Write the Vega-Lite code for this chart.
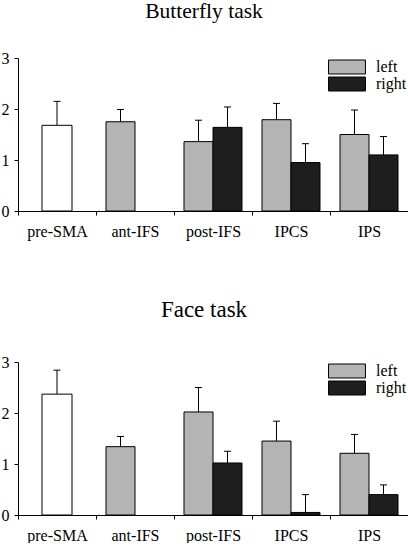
{
  "$schema": "https://vega.github.io/schema/vega-lite/v6.json",
  "padding": {"left": 1, "top": 0, "right": 0, "bottom": 0},
  "background": "white",
  "spacing": 60,
  "resolve": {"legend": {"color": "independent"}},
  "config": {
    "font": "Liberation Serif",
    "view": {"stroke": null},
    "axis": {
      "labelFont": "Liberation Serif",
      "labelFontSize": 16,
      "labelColor": "black",
      "domainColor": "black",
      "tickColor": "black",
      "grid": false,
      "title": null,
      "tickSize": 4,
      "domainWidth": 1,
      "tickWidth": 1
    },
    "legend": {"labelFont": "Liberation Serif", "labelFontSize": 16, "labelColor": "black"},
    "title": {"font": "Liberation Serif", "fontWeight": "normal", "color": "black", "anchor": "middle"}
  },
  "datasets": {
    "butterfly": [
      {"region": "pre-SMA", "side": "bilateral", "value": 1.68, "upper": 2.15},
      {"region": "ant-IFS", "side": "left", "value": 1.75, "upper": 1.99},
      {"region": "post-IFS", "side": "left", "value": 1.36, "upper": 1.78},
      {"region": "post-IFS", "side": "right", "value": 1.64, "upper": 2.04},
      {"region": "IPCS", "side": "left", "value": 1.79, "upper": 2.11},
      {"region": "IPCS", "side": "right", "value": 0.95, "upper": 1.32},
      {"region": "IPS", "side": "left", "value": 1.5, "upper": 1.98},
      {"region": "IPS", "side": "right", "value": 1.1, "upper": 1.46}
    ],
    "face": [
      {"region": "pre-SMA", "side": "bilateral", "value": 2.37, "upper": 2.84},
      {"region": "ant-IFS", "side": "left", "value": 1.34, "upper": 1.54},
      {"region": "post-IFS", "side": "left", "value": 2.02, "upper": 2.5},
      {"region": "post-IFS", "side": "right", "value": 1.02, "upper": 1.25},
      {"region": "IPCS", "side": "left", "value": 1.45, "upper": 1.84},
      {"region": "IPCS", "side": "right", "value": 0.05, "upper": 0.4},
      {"region": "IPS", "side": "left", "value": 1.21, "upper": 1.58},
      {"region": "IPS", "side": "right", "value": 0.4, "upper": 0.59}
    ]
  },
  "vconcat": [
    {
      "title": {"text": "Butterfly task", "fontSize": 21.5, "offset": 28, "dx": -9},
      "width": 390,
      "height": 153,
      "data": {"name": "butterfly"},
      "encoding": {
        "x": {"field": "region", "type": "nominal", "sort": ["pre-SMA", "ant-IFS", "post-IFS", "IPCS", "IPS"],
              "scale": {"paddingInner": 0, "paddingOuter": 0},
              "axis": {"labelAngle": 0, "tickBand": "extent", "labelPadding": 8, "labelFont": "Liberation Serif", "labelFontSize": 16, "labelColor": "black", "domainColor": "black", "tickColor": "black"}}
      },
      "layer": [
        {
          "transform": [{"filter": "datum.side === 'bilateral'"}],
          "mark": {"type": "rule", "stroke": "black", "strokeWidth": 1},
          "encoding": {"y": {"field": "value", "type": "quantitative"}, "y2": {"field": "upper"}}
        },
        {
          "transform": [{"filter": "datum.side === 'bilateral'"}],
          "mark": {"type": "tick", "size": 7, "thickness": 1, "color": "black", "opacity": 1},
          "encoding": {"y": {"field": "upper", "type": "quantitative"}}
        },
        {
          "transform": [{"filter": "datum.side === 'bilateral'"}],
          "mark": {"type": "bar", "width": {"band": 0.385}, "stroke": "black", "strokeWidth": 1},
          "encoding": {
            "y": {"field": "value", "type": "quantitative", "scale": {"domain": [0, 3]},
                  "axis": {"values": [0, 1, 2, 3], "labelPadding": 5, "labelFont": "Liberation Serif", "labelFontSize": 16, "labelColor": "black", "domainColor": "black", "tickColor": "black"}},
            "color": {"field": "side", "type": "nominal",
                      "scale": {"domain": ["bilateral", "left", "right"], "range": ["#ffffff", "#b4b4b4", "#1e1e1e"]},
                      "legend": {"title": null, "values": ["left", "right"], "orient": "top-right", "offset": 1, "padding": 0,
                                 "symbolType": "M-2.64,-1H2.64V1H-2.64Z", "symbolSize": 196,
                                 "symbolStrokeColor": "black", "symbolStrokeWidth": 1, "symbolOpacity": 1,
                                 "labelFont": "Liberation Serif", "labelFontSize": 16, "labelColor": "black",
                                 "labelOffset": 21, "rowPadding": -1}}
          }
        },
        {
          "transform": [{"filter": "datum.side !== 'bilateral'"}],
          "mark": {"type": "rule", "stroke": "black", "strokeWidth": 1},
          "encoding": {
            "xOffset": {"field": "side", "type": "nominal", "scale": {"domain": ["left", "right"], "paddingInner": 0, "paddingOuter": 0.345}},
            "y": {"field": "value", "type": "quantitative"}, "y2": {"field": "upper"}}
        },
        {
          "transform": [{"filter": "datum.side !== 'bilateral'"}],
          "mark": {"type": "tick", "size": 7, "thickness": 1, "color": "black", "opacity": 1},
          "encoding": {
            "xOffset": {"field": "side", "type": "nominal"},
            "y": {"field": "upper", "type": "quantitative"}}
        },
        {
          "transform": [{"filter": "datum.side !== 'bilateral'"}],
          "mark": {"type": "bar", "stroke": "black", "strokeWidth": 1},
          "encoding": {
            "xOffset": {"field": "side", "type": "nominal"},
            "y": {"field": "value", "type": "quantitative"},
            "color": {"field": "side", "type": "nominal"}
          }
        }
      ]
    },
    {
      "title": {"text": "Face task", "fontSize": 23, "offset": 32, "dx": -9},
      "width": 390,
      "height": 153,
      "data": {"name": "face"},
      "encoding": {
        "x": {"field": "region", "type": "nominal", "sort": ["pre-SMA", "ant-IFS", "post-IFS", "IPCS", "IPS"],
              "scale": {"paddingInner": 0, "paddingOuter": 0},
              "axis": {"labelAngle": 0, "tickBand": "extent", "labelPadding": 8, "labelFont": "Liberation Serif", "labelFontSize": 16, "labelColor": "black", "domainColor": "black", "tickColor": "black"}}
      },
      "layer": [
        {
          "transform": [{"filter": "datum.side === 'bilateral'"}],
          "mark": {"type": "rule", "stroke": "black", "strokeWidth": 1},
          "encoding": {"y": {"field": "value", "type": "quantitative"}, "y2": {"field": "upper"}}
        },
        {
          "transform": [{"filter": "datum.side === 'bilateral'"}],
          "mark": {"type": "tick", "size": 7, "thickness": 1, "color": "black", "opacity": 1},
          "encoding": {"y": {"field": "upper", "type": "quantitative"}}
        },
        {
          "transform": [{"filter": "datum.side === 'bilateral'"}],
          "mark": {"type": "bar", "width": {"band": 0.385}, "stroke": "black", "strokeWidth": 1},
          "encoding": {
            "y": {"field": "value", "type": "quantitative", "scale": {"domain": [0, 3]},
                  "axis": {"values": [0, 1, 2, 3], "labelPadding": 5, "labelFont": "Liberation Serif", "labelFontSize": 16, "labelColor": "black", "domainColor": "black", "tickColor": "black"}},
            "color": {"field": "side", "type": "nominal",
                      "scale": {"domain": ["bilateral", "left", "right"], "range": ["#ffffff", "#b4b4b4", "#1e1e1e"]},
                      "legend": {"title": null, "values": ["left", "right"], "orient": "top-right", "offset": 1, "padding": 0,
                                 "symbolType": "M-2.64,-1H2.64V1H-2.64Z", "symbolSize": 196,
                                 "symbolStrokeColor": "black", "symbolStrokeWidth": 1, "symbolOpacity": 1,
                                 "labelFont": "Liberation Serif", "labelFontSize": 16, "labelColor": "black",
                                 "labelOffset": 21, "rowPadding": -1}}
          }
        },
        {
          "transform": [{"filter": "datum.side !== 'bilateral'"}],
          "mark": {"type": "rule", "stroke": "black", "strokeWidth": 1},
          "encoding": {
            "xOffset": {"field": "side", "type": "nominal", "scale": {"domain": ["left", "right"], "paddingInner": 0, "paddingOuter": 0.345}},
            "y": {"field": "value", "type": "quantitative"}, "y2": {"field": "upper"}}
        },
        {
          "transform": [{"filter": "datum.side !== 'bilateral'"}],
          "mark": {"type": "tick", "size": 7, "thickness": 1, "color": "black", "opacity": 1},
          "encoding": {
            "xOffset": {"field": "side", "type": "nominal"},
            "y": {"field": "upper", "type": "quantitative"}}
        },
        {
          "transform": [{"filter": "datum.side !== 'bilateral'"}],
          "mark": {"type": "bar", "stroke": "black", "strokeWidth": 1},
          "encoding": {
            "xOffset": {"field": "side", "type": "nominal"},
            "y": {"field": "value", "type": "quantitative"},
            "color": {"field": "side", "type": "nominal"}
          }
        }
      ]
    }
  ]
}
